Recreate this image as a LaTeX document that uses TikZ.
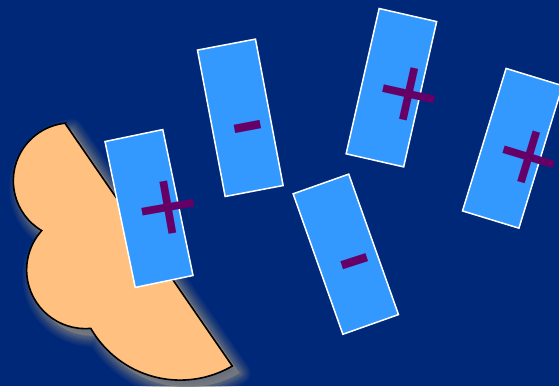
\documentclass[tikz,border=0pt]{standalone}
\usepackage{fontspec}
\setmainfont{Liberation Sans}
\definecolor{bg}{RGB}{0,40,120}
\definecolor{barblue}{RGB}{51,153,255}
\definecolor{signpurple}{RGB}{102,0,102}
\definecolor{peach}{RGB}{255,192,128}
\begin{document}
\begin{tikzpicture}[x=1pt,y=1pt,
  bar/.style={draw=white, line width=1.5pt, fill=barblue, minimum width=59pt,
    minimum height=149pt, inner sep=0pt, outer sep=0pt},
  sign/.style={text=signpurple, font=\fontsize{108}{108}\selectfont,
    inner sep=0pt, outer sep=0pt, text depth=0pt},
  plussign/.style={sign, text height=76pt},
  minussign/.style={sign, text height=56.4pt},
  cloudpath/.style={insert path={(65,-123.3) -- (232.3,-366)
    arc[start angle=-59.7, end angle=-150.1, radius=103.2]
    arc[start angle=-84.7, end angle=-222, radius=58.7]
    arc[start angle=239.4, end angle=96.1, radius=57.9] -- cycle}}
]
\useasboundingbox (0,0) rectangle (559,-386);
\fill[bg] (0,0) rectangle (559,-386);
% glow of the shape
\foreach \w/\o in {22/0.10, 18/0.12, 14/0.15, 10/0.2, 6/0.25, 2/0.3}
  \draw[shift={(7,-7)}, draw=gray, line width=\w pt, opacity=\o, line join=round, cloudpath];
\fill[shift={(7,-7)}, gray, opacity=0.75, cloudpath];
% the shape
\draw[fill=peach, draw=black, line width=1.6pt, cloudpath];
% bars
\node[bar, rotate=11.7] (r1) at (149,-208.5) {};
\node[bar, rotate=10.7] (r2) at (240.3,-117.8) {};
\node[bar, rotate=-12.8] (r3) at (391.4,-87.7) {};
\node[bar, rotate=-17] (r4) at (512.5,-148.3) {};
\node[bar, rotate=19.5] (r5) at (345.8,-254.2) {};
% signs
\node[plussign, rotate=10] (s1) at (167.6,-205.4) {+};
\node[minussign, rotate=10.7] (s2) at (247.8,-127.7) {-};
\node[plussign, rotate=-12.6] (s3) at (409.3,-92.7) {+};
\node[plussign, rotate=-17] (s4) at (530.2,-155.2) {\makebox[0pt]{+}};
\node[minussign, rotate=18] (s5) at (354.8,-262) {-};
\end{tikzpicture}
\end{document}
